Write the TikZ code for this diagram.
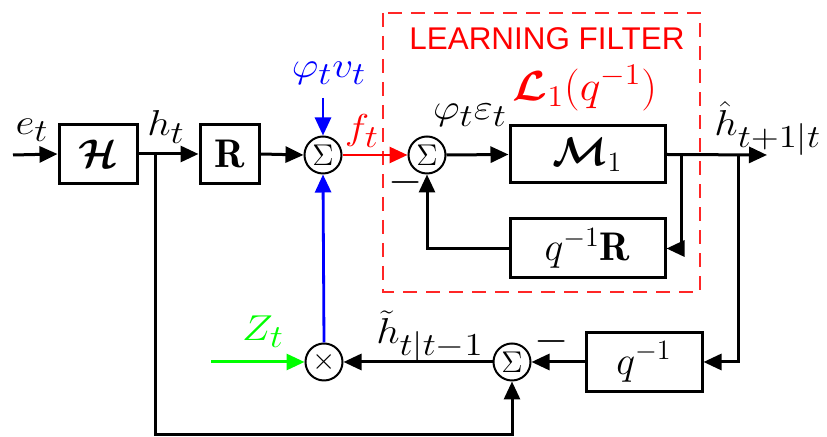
\RequirePackage{fix-cm}
\documentclass[tikz,border=0pt]{standalone}
\usepackage{amsmath}
\usepackage{fontspec}
\usepackage{bm}
\newfontfamily\lfsans{Liberation Sans}
\usetikzlibrary{arrows.meta}
\DeclareMathSizes{18}{18}{16}{12}
\DeclareMathSizes{20}{20}{14}{10}
\DeclareMathSizes{21}{21}{15}{11}
\DeclareMathSizes{15}{15}{11}{8}
\DeclareMathSizes{22}{22}{16}{12}
\definecolor{myblue}{RGB}{0,0,255}
\definecolor{mygreen}{RGB}{0,255,0}
\definecolor{myred}{RGB}{255,0,0}
\begin{document}
\begin{tikzpicture}[x=0.5pt,y=-0.5pt,
  blk/.style={draw,line width=1.5pt,minimum height=29.5pt,inner sep=0pt,font=\fontsize{20}{24}\selectfont},
  sumc/.style={draw,circle,line width=1pt,minimum size=18.5pt,inner sep=0pt,font=\fontsize{15}{17}\selectfont},
  lbl/.style={font=\fontsize{18}{21}\selectfont,inner sep=0pt,xscale=1.15,transform shape},
  wire/.style={line width=1.5pt,-{Triangle[length=9pt,width=8pt]}},
  cwire/.style={line width=1.4pt,-{Triangle[length=9pt,width=8pt]}},
  minus/.style={font=\fontsize{22}{24}\selectfont,inner sep=0pt}]
\useasboundingbox (0,0) rectangle (827,437);
% learning filter frame
\draw[myred!85,line width=1pt,dash pattern=on 7pt off 4.5pt] (383,13) rectangle (700,292);
\node[font=\lfsans\fontsize{15.7}{19}\selectfont,text=myred,inner sep=0pt] (lftxt) at (547,39) {LEARNING FILTER};
\node[font=\fontsize{21}{24}\selectfont,text=myred,inner sep=0pt,xscale=1.05,transform shape] (lfsym) at (585,88) {$\bm{\mathcal{L}}_1(q^{-1})$};
% blocks
\node[blk,minimum width=39pt] (H) at (98,154) {$\bm{\mathcal{H}}$};
\node[blk,minimum width=29.5pt] (R) at (229.5,154) {$\mathbf{R}$};
\node[blk,minimum width=77.5pt,minimum height=28.5pt] (M) at (587.5,154.5) {$\bm{\mathcal{M}}_1$};
\node[blk,minimum width=77.5pt] (QR) at (587.5,248.5) {$q^{-1}\mathbf{R}$};
\node[blk,minimum width=58pt] (Q) at (644,362) {$q^{-1}$};
% junctions
\node[sumc] (S1) at (323,155) {$\Sigma$};
\node[sumc] (S2) at (427,155) {$\Sigma$};
\node[sumc] (S3) at (512,362) {$\Sigma$};
\node[sumc] (X) at (324,362) {$\times$};
% coordinates
\coordinate (in) at (13,155);
\coordinate (sp) at (155,155);
\coordinate (pv) at (323,98);
\coordinate (b1) at (681,155);
\coordinate (b2) at (738,155);
\coordinate (out) at (767,155);
\coordinate (zin) at (211,362);
\coordinate (bot) at (155,435);
% wires
\draw[wire] (in) -- (H.west);
\draw[wire] (H.east) -- (R.west);
\draw[wire] (R.east) -- (S1.west);
\draw[cwire,myblue] (pv) -- (S1.north);
\draw[cwire,myred] (S1.east) -- (S2.west);
\draw[wire] (S2.east) -- (M.west);
\draw[wire] (M.east) -- (out);
\draw[wire] (b1) |- (QR.east);
\draw[wire] (QR.west) -| (S2.south);
\draw[wire] (b2) |- (Q.east);
\draw[wire] (Q.west) -- (S3.east);
\draw[wire] (S3.west) -- (X.east);
\draw[wire] (sp) -- (bot) -| (S3.south);
\draw[cwire,mygreen,line width=1.5pt] (zin) -- (X.west);
\draw[cwire,myblue] (X.north) -- (S1.south);
% labels
\node[lbl] (et) at (32,130) {$e_t$};
\node[lbl] (ht) at (166,127) {$h_t$};
\node[lbl,text=myblue] (pvt) at (329,73) {$\varphi_t v_t$};
\node[lbl,text=myred] (ft) at (362,131) {$f_t$};
\node[lbl] (pe) at (470,115) {$\varphi_t\varepsilon_t$};
\node[lbl,anchor=base west] (hh) at (714,136) {$\hat{h}_{t+1|t}$};
\node[lbl,text=mygreen] (zt) at (263,332) {$Z_t$};
\node[lbl] (htil) at (430,337) {$\tilde{h}_{t|t-1}$};
\node[minus] (m1) at (406,183) {$-$};
\node[minus] (m2) at (552,342) {$-$};
\end{tikzpicture}
\end{document}
